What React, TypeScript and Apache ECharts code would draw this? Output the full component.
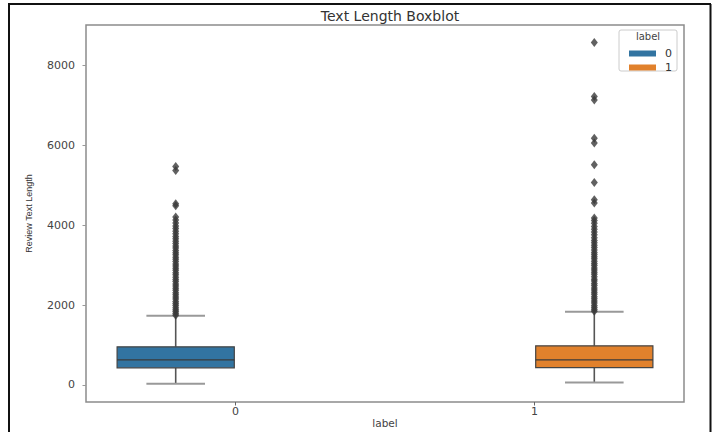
import React, { useEffect, useRef } from "react";
import * as echarts from "echarts";

// Categories (x) and hue levels
const categories = ["0", "1"];
const hueLevels = ["0", "1"];
const hueColors = ["#3274a1", "#e1812c"];

// Box statistics per hue: [categoryIndex, min(whisker), Q1, median, Q3, max(whisker)]
const box0 = [0, 25, 426, 627, 952, 1730];
const box1 = [1, 58, 430, 627, 977, 1830];

// Outliers (fliers) per hue
const outliers0 = [
  1745, 1790, 1840, 1885, 1930, 1990, 2040, 2090, 2150, 2200, 2260, 2310, 2370, 2420,
  2480, 2530, 2590, 2640, 2700, 2760, 2810, 2870, 2920, 2980, 3030, 3090, 3150, 3200,
  3260, 3310, 3370, 3430, 3480, 3540, 3600, 3660, 3720, 3790, 3850, 3920, 3980, 4060,
  4130, 4210, 4490, 4540, 5370, 5470,
];
const outliers1 = [
  1845, 1890, 1940, 1990, 2050, 2100, 2160, 2210, 2270, 2320, 2380, 2430, 2490, 2540,
  2600, 2650, 2710, 2770, 2820, 2880, 2930, 2990, 3040, 3100, 3160, 3210, 3270, 3320,
  3380, 3440, 3500, 3560, 3620, 3690, 3760, 3830, 3900, 3970, 4050, 4120, 4180, 4560,
  4640, 5070, 5520, 6060, 6180, 7140, 7230, 8580,
];

// Tick labels
const yTicks = [0, 2000, 4000, 6000, 8000];
const xTicks = [0, 1];

// seaborn-style dodge for hue
const DODGE = [-0.2, 0.2];
const BOX_W = 0.4 * 0.98;

function makeRenderItem(offset: number, color: string) {
  return (params: any, api: any) => {
    const x = api.value(0) + offset;
    const lo = api.coord([x, api.value(1)]);
    const q1 = api.coord([x, api.value(2)]);
    const med = api.coord([x, api.value(3)]);
    const q3 = api.coord([x, api.value(4)]);
    const hi = api.coord([x, api.value(5)]);
    const w = api.size([BOX_W, 0])[0];
    const cx = lo[0];
    const capHalf = w / 4;
    return {
      type: "group",
      children: [
        { type: "line", shape: { x1: cx, y1: q3[1], x2: cx, y2: hi[1] }, style: { stroke: "#555", lineWidth: 1.6 } },
        { type: "line", shape: { x1: cx, y1: lo[1], x2: cx, y2: q1[1] }, style: { stroke: "#555", lineWidth: 1.6 } },
        { type: "line", shape: { x1: cx - capHalf, y1: hi[1], x2: cx + capHalf, y2: hi[1] }, style: { stroke: "#999", lineWidth: 2 } },
        { type: "line", shape: { x1: cx - capHalf, y1: lo[1], x2: cx + capHalf, y2: lo[1] }, style: { stroke: "#999", lineWidth: 2 } },
        {
          type: "rect",
          shape: { x: cx - w / 2, y: q3[1], width: w, height: q1[1] - q3[1] },
          style: { fill: color, stroke: "#444", lineWidth: 1.2 },
        },
        { type: "line", shape: { x1: cx - w / 2, y1: med[1], x2: cx + w / 2, y2: med[1] }, style: { stroke: "#3a3a3a", lineWidth: 1.4 } },
      ],
    };
  };
}

export default function App() {
  const ref = useRef<HTMLDivElement>(null);
  useEffect(() => {
    if (!ref.current) return;
    const chart = echarts.init(ref.current, undefined, { renderer: "svg" });
    const boxes = [box0, box1];
    const fliers = [outliers0, outliers1];
    const series: any[] = [];
    hueLevels.forEach((h, i) => {
      series.push({
        name: h,
        type: "custom",
        renderItem: makeRenderItem(DODGE[i], hueColors[i]),
        itemStyle: { color: hueColors[i] },
        encode: { x: 0, y: [1, 2, 3, 4, 5] },
        data: [boxes[i]],
        z: 2,
      });
      series.push({
        name: h + "_fliers",
        type: "scatter",
        symbol: "diamond",
        symbolSize: [7, 9],
        itemStyle: { color: "#3a3a3a" },
        data: fliers[i].map((v) => [boxes[i][0] + DODGE[i], v]),
        z: 3,
      });
    });
    chart.setOption({
      animation: false,
      backgroundColor: "#ffffff",
      title: {
        text: "Text Length Boxblot",
        left: 385,
        textAlign: "center",
        top: 4,
        textStyle: { fontFamily: "DejaVu Sans", fontSize: 14, fontWeight: "normal", color: "#333" },
      },
      grid: {
        left: 86,
        right: 29,
        top: 25,
        bottom: 30,
        show: true,
        borderColor: "#8c8c8c",
        borderWidth: 1.5,
        outerBoundsMode: "none",
        containLabel: false,
      },
      legend: {
        data: hueLevels,
        orient: "vertical",
        left: 624,
        top: 42,
        itemGap: 1,
        itemWidth: 27,
        itemHeight: 6,
        icon: "rect",
        z: 6,
        textStyle: { fontFamily: "DejaVu Sans", fontSize: 11, color: "#333", lineHeight: 13, padding: [0, 0, 0, 4] },
      },
      xAxis: {
        type: "value",
        min: -0.5,
        max: 1.5,
        splitLine: { show: false },
        axisLine: { show: false, onZero: false },
        axisTick: { show: true, customValues: xTicks, length: 3.5, lineStyle: { color: "#666" } },
        axisLabel: {
          customValues: xTicks,
          formatter: (v: number) => categories[Math.round(v)] ?? "",
          margin: 4,
          fontFamily: "DejaVu Sans",
          fontSize: 11,
          color: "#444",
        },
        name: "label",
        nameLocation: "middle",
        nameGap: 15,
        nameMoveOverlap: false,
        nameTextStyle: { fontFamily: "DejaVu Sans", fontSize: 10.5, color: "#444" },
      },
      yAxis: {
        type: "value",
        min: -430,
        max: 9020,
        splitLine: { show: false },
        axisLine: { show: false, onZero: false },
        axisTick: { show: true, customValues: yTicks, length: 3.5, lineStyle: { color: "#999" } },
        axisLabel: {
          customValues: yTicks,
          formatter: (v: number) => String(v),
          margin: 11,
          fontFamily: "DejaVu Sans",
          fontSize: 11,
          color: "#444",
        },
        name: "Review Text Length",
        nameLocation: "middle",
        nameRotate: 90,
        nameGap: 53,
        nameMoveOverlap: false,
        nameTextStyle: { fontFamily: "Liberation Sans", fontSize: 9, color: "#333" },
      },
      graphic: [
        {
          type: "rect",
          z: 1,
          shape: { x: 619, y: 30, width: 58, height: 41, r: 2 },
          style: { fill: "#ffffff", stroke: "#cccccc", lineWidth: 1 },
        },
        {
          type: "text",
          z: 7,
          x: 648,
          y: 36,
          style: { text: "label", fontFamily: "DejaVu Sans", fontSize: 10, fill: "#444", textAlign: "center", textVerticalAlign: "middle" },
        },
        { type: "line", z: 10, shape: { x1: 9, y1: 4, x2: 9, y2: 432 }, style: { stroke: "#111", lineWidth: 2 } },
        { type: "line", z: 10, shape: { x1: 8, y1: 4, x2: 711, y2: 4 }, style: { stroke: "#111", lineWidth: 2 } },
        { type: "line", z: 10, shape: { x1: 710.5, y1: 4, x2: 710.5, y2: 432 }, style: { stroke: "#111", lineWidth: 2 } },
      ],
      series,
    });
    return () => chart.dispose();
  }, []);
  return <div ref={ref} style={{ position: "fixed", left: 0, top: 0, width: 713, height: 432 }} />;
}
